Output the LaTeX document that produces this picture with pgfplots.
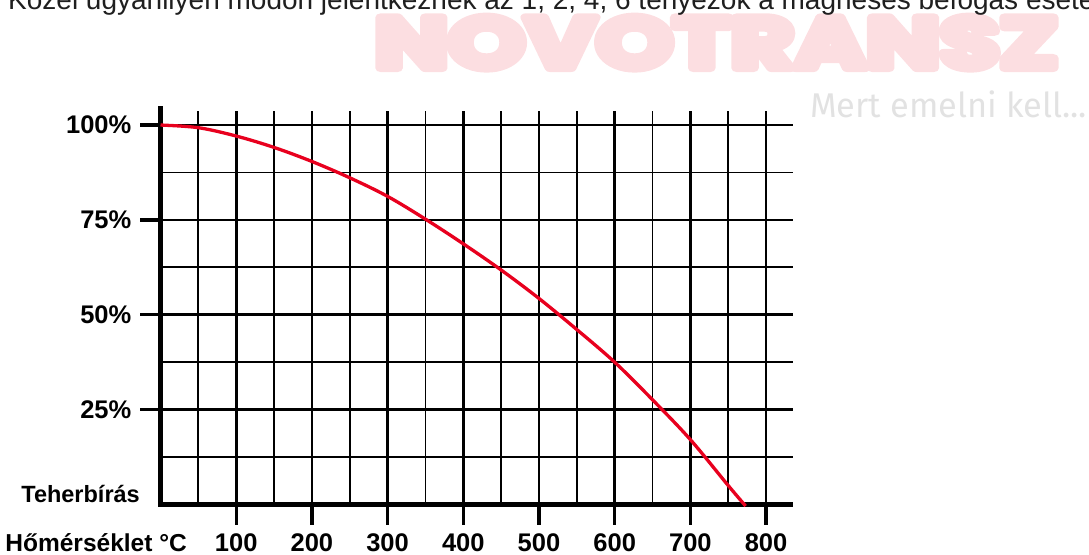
\documentclass[border=0pt]{standalone}
\usepackage{fontspec}
\setmainfont{Liberation Sans}
\newfontfamily\wmfont{Poppins}
\newfontfamily\mertfont{Fira Sans}
\usepackage{pgfplots}
\pgfplotsset{compat=1.18}
\definecolor{curvered}{RGB}{232,0,30}
\definecolor{wmpink}{RGB}{252,222,225}
\definecolor{mertgray}{RGB}{226,226,226}
\begin{document}
\begin{tikzpicture}[x=1pt,y=1pt]
\path[use as bounding box] (0,0) rectangle (1089,554);
\clip (0,0) rectangle (1089,554);
\node[anchor=north west, inner sep=0pt, text=wmpink] at (374.5,537.6) {\resizebox{683pt}{51.5pt}{\special{pdf:code q 2 Tr 1.1 w 1 j}\wmfont\bfseries NOVOTRANSZ\special{pdf:code Q}}};
\node[anchor=base west, inner sep=0pt, text=mertgray] at (810,436.7) {\resizebox{277pt}{!}{\mertfont Mert emelni kell...}};
\node[anchor=base west, inner sep=0pt, text=black!88] at (8,544) {\fontsize{28}{32}\selectfont Közel ugyanilyen módon jelentkeznek az 1, 2, 4, 6 tényezők a mágneses befogás esetén};
\node[anchor=base east, inner sep=0pt] at (140,51) {\bfseries\fontsize{23.5}{27}\selectfont Teherbírás};
\node[anchor=base east, inner sep=0pt] at (187,2.5) {\bfseries\fontsize{24.5}{28}\selectfont Hőmérséklet °C};
\begin{axis}[
  at={(160.5pt,49.5pt)}, anchor=south west,
  scale only axis, width=632.5pt, height=393.5pt,
  xmin=0, xmax=835.6, ymin=0, ymax=103.7,
  axis lines=left,
  x axis line style={-, line width=5pt, shorten <=-2.25pt},
  y axis line style={-, line width=4.5pt, shorten >=-5pt},
  xtick={100,200,300,400,500,600,700,800},
  xticklabels={100,200,300,400,500,600,700,800},
  ytick={25,50,75,100},
  yticklabels={25\%,50\%,75\%,100\%},
  minor xtick={50,150,250,350,450,550,650,750},
  minor ytick={12.5,37.5,62.5,87.5},
  grid=both,
  major grid style={black, line width=2.7pt},
  minor grid style={black, line width=1.8pt},
  tick align=outside,
  major tick length=20pt,
  minor tick length=0pt,
  tick style={black, line width=3.3pt},
  ticklabel style={font=\bfseries\fontsize{25.5}{30}\selectfont, inner sep=0pt},
  xticklabel style={anchor=north, yshift=-8.5pt},
  yticklabel style={anchor=east, xshift=-9pt},
  clip=false,
]
\addplot[curvered, line width=3.3pt, smooth, tension=0.55] coordinates {
(0,100) (50,99.3) (100,97.1) (150,94.1) (200,90.4) (250,86.1) (300,81.2)
(350,75.2) (400,68.7) (450,61.8) (500,54.3) (550,46.1) (600,37.5)
(650,27.6) (700,17.1) (750,5.0) (773,-0.4)
};
\end{axis}
\end{tikzpicture}
\end{document}
